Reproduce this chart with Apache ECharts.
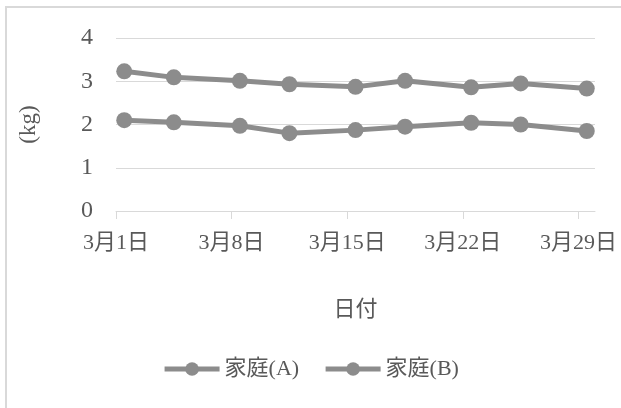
<!DOCTYPE html>
<html>
<head>
<meta charset="utf-8">
<script src="https://cdn.jsdelivr.net/npm/echarts@6/dist/echarts.min.js"></script>
<style>
  html, body { margin: 0; background: #fff; }
  #chart { width: 621px; height: 408px; }
</style>
</head>
<body>
<div id="chart"></div>
<script>
// 3月の日付（日）
const days = [1, 4, 8, 11, 15, 18, 22, 25, 29];
const familyA = [3.23, 3.09, 3.01, 2.93, 2.87, 3.01, 2.86, 2.95, 2.83];
const familyB = [2.10, 2.05, 1.97, 1.80, 1.87, 1.95, 2.04, 2.00, 1.85];
const tickDays = [1, 8, 15, 22, 29];
const yTicks = [0, 1, 2, 3, 4];

const font = 'Liberation Serif, Noto Sans CJK JP';
const lineColor = '#8c8c8c';
const gridColor = '#d9d9d9';
const textColor = '#595959';

const chart = echarts.init(document.getElementById('chart'));

function makeSeries(name, values) {
    return {
        name: name,
        type: 'line',
        data: days.map((d, i) => [d, values[i]]),
        symbol: 'circle',
        symbolSize: 16,
        lineStyle: { width: 5, color: lineColor },
        itemStyle: { color: lineColor }
    };
}

chart.setOption({
    animation: false,
    textStyle: { fontFamily: font },
    graphic: [{
        type: 'rect',
        shape: { x: 6, y: 7, width: 800, height: 600 },
        style: { fill: 'none', stroke: gridColor, lineWidth: 2 }
    }],
    grid: { left: 116, right: 26, top: 38, bottom: 197 },
    legend: {
        bottom: 23,
        left: 'center',
        itemWidth: 55,
        itemHeight: 17,
        itemGap: 24,
        lineStyle: { width: 5 },
        textStyle: { fontFamily: font, fontSize: 22, color: textColor },
        data: ['家庭(A)', '家庭(B)']
    },
    xAxis: {
        type: 'value',
        min: 0.5,
        max: 29.5,
        name: '日付',
        nameLocation: 'middle',
        nameGap: 88,
        nameTextStyle: { fontFamily: font, fontSize: 22, color: textColor },
        axisLine: { lineStyle: { color: gridColor, width: 1 } },
        axisTick: { show: true, length: 8, lineStyle: { color: gridColor }, customValues: tickDays.map(d => d - 0.5) },
        axisLabel: {
            customValues: tickDays.map(d => d - 0.5),
            margin: 21,
            fontSize: 22,
            color: textColor,
            formatter: v => '3月' + Math.round(v + 0.5) + '日'
        },
        splitLine: { show: false }
    },
    yAxis: {
        type: 'value',
        min: yTicks[0],
        max: yTicks[yTicks.length - 1],
        interval: 1,
        name: '(kg)',
        nameLocation: 'middle',
        nameRotate: 90,
        nameGap: 76,
        nameTextStyle: { fontFamily: font, fontSize: 23, color: textColor },
        axisLine: { show: false },
        axisTick: { show: false },
        axisLabel: { margin: 23, fontSize: 24, color: textColor },
        splitLine: { lineStyle: { color: gridColor, width: 1 } }
    },
    series: [
        makeSeries('家庭(A)', familyA),
        makeSeries('家庭(B)', familyB)
    ]
});
</script>
</body>
</html>
